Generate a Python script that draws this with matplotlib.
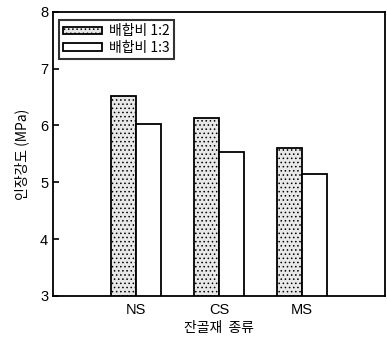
import numpy as np
import matplotlib
matplotlib.use('Agg')
import matplotlib.pyplot as plt

# data ========================================================================
categories = ['NS', 'CS', 'MS']
mix_12 = [6.52, 6.14, 5.60]  # 배합비 1:2
mix_13 = [6.02, 5.54, 5.14]  # 배합비 1:3
series_labels = ['배합비 1:2', '배합비 1:3']

kfont = ['Noto Sans CJK KR', 'DejaVu Sans']
plt.rcParams['font.family'] = ['Liberation Sans', 'Noto Sans CJK KR']
plt.rcParams['hatch.color'] = '#a0a0a0'
plt.rcParams['hatch.linewidth'] = 0.6

fig = plt.figure(figsize=(3.87, 3.39), dpi=100)
ax = fig.add_axes([0.137, 0.127, 0.858, 0.838])

x = np.arange(len(categories))
w = 0.3
ax.bar(x - w/2, mix_12, w, facecolor='#e8e8e8', edgecolor='black',
       linewidth=1.3, hatch='....', label=series_labels[0])
ax.bar(x + w/2, mix_13, w, facecolor='white', edgecolor='black',
       linewidth=1.3, label=series_labels[1])

ax.set_xlim(-1.0, 3.0)
ax.set_ylim(3, 8)
ax.set_yticks([3, 4, 5, 6, 7, 8])
ax.set_xticks(x)
ax.set_xticklabels(categories)
ax.tick_params(axis='y', direction='in', length=4, width=1.2, labelsize=10.5)
ax.tick_params(axis='x', length=0, labelsize=10.5, pad=5)
for s in ax.spines.values():
    s.set_linewidth(1.3)

ax.set_ylabel('인장강도 (MPa)', family=kfont, fontsize=10, labelpad=8)
ax.set_xlabel('잔골재  종류', family=kfont, fontsize=10, labelpad=3)

leg = ax.legend(loc='upper left', bbox_to_anchor=(0.005, 0.985), frameon=True,
                fancybox=False, edgecolor='black', handlelength=2.8,
                handleheight=0.5, borderpad=0.3, labelspacing=0.15,
                handletextpad=0.5, borderaxespad=0.3,
                prop={'family': kfont, 'size': 10})
leg.get_frame().set_linewidth(1.5)

fig.savefig('out.png', dpi=100)
